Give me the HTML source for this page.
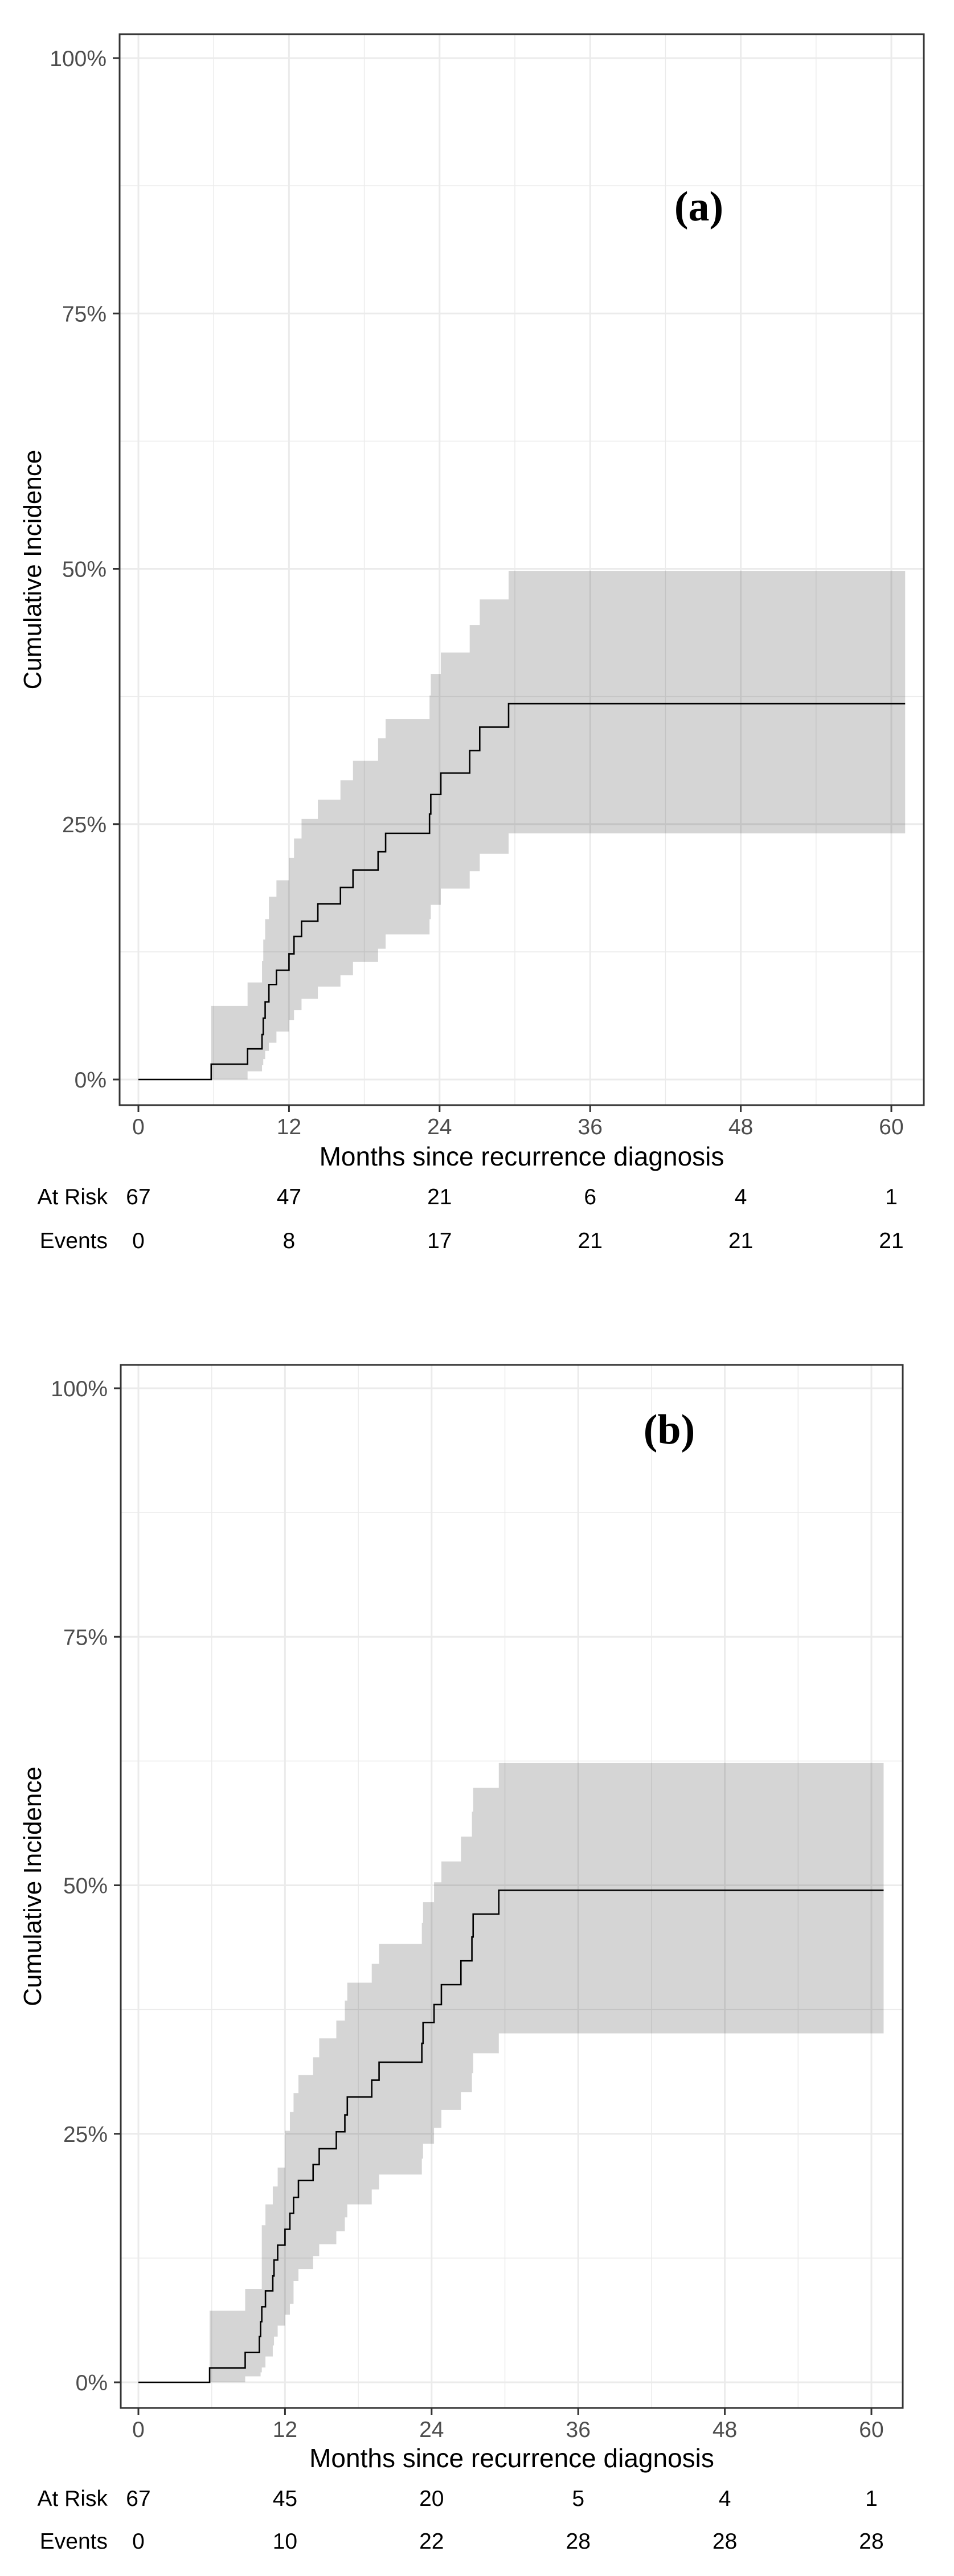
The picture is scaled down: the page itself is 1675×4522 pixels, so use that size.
<!DOCTYPE html>
<html><head><meta charset="utf-8">
<style>
html,body{margin:0;padding:0;background:#fff;}
svg{display:block;}
text{font-family:"Liberation Sans",sans-serif;}
</style></head>
<body>
<svg id="chart" xmlns="http://www.w3.org/2000/svg" width="1675" height="4522" viewBox="0 0 1675 4522"></svg>
<script>
// ---- Panel (a) data ----
const monthsA = [5.8, 8.7, 9.85, 9.95, 10.1, 10.4, 11.0, 12.0, 12.4, 13.0, 14.3, 16.1, 17.1, 19.1, 19.7, 23.2, 23.3, 24.1, 26.4, 27.2, 29.5];
const incA    = [1.5, 3.0, 4.4, 6.0, 7.6, 9.3, 10.7, 12.3, 14.0, 15.5, 17.2, 18.8, 20.5, 22.3, 24.1, 26.0, 27.9, 30.0, 32.2, 34.5, 36.8];
const upperA  = [7.2, 9.5, 11.6, 13.7, 15.7, 17.9, 19.5, 21.7, 23.6, 25.5, 27.4, 29.3, 31.2, 33.4, 35.3, 37.6, 39.7, 41.8, 44.5, 47.0, 49.8];
const lowerA  = [0, 0.8, 1.4, 2.0, 2.8, 3.6, 4.7, 5.8, 6.8, 7.9, 9.1, 10.2, 11.5, 12.8, 14.2, 15.7, 17.1, 18.7, 20.4, 22.1, 24.1];
const endA = 61.1;
const atRiskA = ["67", "47", "21", "6", "4", "1"];
const eventsA = ["0", "8", "17", "21", "21", "21"];

// ---- Panel (b) data ----
const monthsB = [5.83, 8.74, 9.9, 10.0, 10.1, 10.4, 11.0, 11.1, 11.4, 12.0, 12.4, 12.7, 13.1, 14.3, 14.8, 16.2, 16.9, 17.1, 19.1, 19.7, 23.2, 23.3, 24.2, 24.8, 26.4, 27.3, 27.4, 29.5];
const incB    = [1.45, 3.0, 4.6, 6.1, 7.6, 9.2, 10.7, 12.3, 13.8, 15.4, 17.0, 18.6, 20.3, 21.9, 23.5, 25.2, 26.9, 28.7, 30.4, 32.2, 34.1, 36.2, 38.0, 40.0, 42.4, 44.8, 47.1, 49.5];
const upperB  = [7.2, 9.4, 9.4, 9.4, 15.8, 17.9, 19.7, 19.7, 21.6, 25.3, 27.2, 29.1, 30.9, 32.7, 34.6, 36.4, 38.4, 40.2, 42.1, 44.1, 46.2, 48.3, 50.3, 52.4, 54.9, 57.4, 59.8, 62.3];
const lowerB  = [0, 0.6, 0.6, 1.0, 1.5, 2.6, 3.7, 4.6, 5.7, 6.8, 7.9, 10.2, 11.4, 12.7, 13.9, 15.2, 16.6, 17.9, 19.4, 20.9, 22.5, 24.0, 25.6, 27.4, 29.2, 31.1, 33.1, 35.1];
const endB = 61.0;
const atRiskB = ["67", "45", "20", "5", "4", "1"];
const eventsB = ["0", "10", "22", "28", "28", "28"];

// ---- Axis ticks ----
const xTicks = [0, 12, 24, 36, 48, 60];
const xMinor = [6, 18, 30, 42, 54];
const yTicks = [0, 25, 50, 75, 100];
const yTickLabels = ["0%", "25%", "50%", "75%", "100%"];
const yMinor = [12.5, 37.5, 62.5, 87.5];

const NS = "http://www.w3.org/2000/svg";
const svg = document.getElementById("chart");
function mk(tag, attrs, parent){
  const e = document.createElementNS(NS, tag);
  for (const k in attrs) e.setAttribute(k, attrs[k]);
  (parent||svg).appendChild(e);
  return e;
}

function drawPanel(p){
  const g = mk("g", {});
  
  
  const xs = m => p.x0 + (m/60)*(p.x60 - p.x0);
  const ys = v => p.y0 + (v/100)*(p.y100 - p.y0);

  xMinor.forEach(m=>{ const l=mk("line",{x1:xs(m),x2:xs(m),y1:p.top,y2:p.bottom,stroke:"#ebebeb","stroke-width":1.5},g);
      });
  yMinor.forEach(v=>{ const l=mk("line",{x1:p.left,x2:p.right,y1:ys(v),y2:ys(v),stroke:"#ebebeb","stroke-width":1.5},g);
      });
  xTicks.forEach(m=>{ const l=mk("line",{x1:xs(m),x2:xs(m),y1:p.top,y2:p.bottom,stroke:"#ebebeb","stroke-width":3},g);
      });
  yTicks.forEach(v=>{ const l=mk("line",{x1:p.left,x2:p.right,y1:ys(v),y2:ys(v),stroke:"#ebebeb","stroke-width":3},g);
      });

  const n = p.t.length;
  let d = "M" + xs(p.t[0]) + "," + ys(p.up[0]);
  for (let i=1;i<n;i++){ d += " H" + xs(p.t[i]) + " V" + ys(p.up[i]); }
  d += " H" + xs(p.end) + " V" + ys(p.lo[n-1]);
  for (let i=n-1;i>=1;i--){ d += " H" + xs(p.t[i]) + " V" + ys(p.lo[i-1]); }
  d += " H" + xs(p.t[0]) + " Z";
  const band = mk("path",{d:d,fill:"#000","fill-opacity":0.165,stroke:"none"},g);
  
  

  let s = "M" + xs(0) + "," + ys(0);
  for (let i=0;i<n;i++){ s += " H" + xs(p.t[i]) + " V" + ys(p.inc[i]); }
  s += " H" + xs(p.end);
  const line = mk("path",{d:s,fill:"none",stroke:"#000","stroke-width":2.6},g);
  
  

  const border = mk("rect",{x:p.left,y:p.top,width:p.right-p.left,height:p.bottom-p.top,fill:"none",stroke:"#333","stroke-width":3},g);
  
  

  yTicks.forEach((v,i)=>{
    const tk = mk("line",{x1:p.left-12,x2:p.left,y1:ys(v),y2:ys(v),stroke:"#333","stroke-width":3},g);
     
    const t = mk("text",{x:p.left-23,y:ys(v)+14,"text-anchor":"end","font-size":39,fill:"#4d4d4d"},g);
    t.textContent = yTickLabels[i];
     
  });
  xTicks.forEach((m,i)=>{
    const tk = mk("line",{x1:xs(m),x2:xs(m),y1:p.bottom,y2:p.bottom+12,stroke:"#333","stroke-width":3},g);
     
    const t = mk("text",{x:xs(m),y:p.tickY+14,"text-anchor":"middle","font-size":39,fill:"#4d4d4d"},g);
    t.textContent = String(m);
     
    const r = mk("text",{x:xs(m),y:p.riskY+14,"text-anchor":"middle","font-size":39,fill:"#000"},g);
    r.textContent = p.risk[i];
     
    const e = mk("text",{x:xs(m),y:p.evY+14,"text-anchor":"middle","font-size":39,fill:"#000"},g);
    e.textContent = p.ev[i];
     
  });
  const rl = mk("text",{x:189,y:p.riskY+14,"text-anchor":"end","font-size":39,fill:"#000"},g);
  rl.textContent = "At Risk";
   
  const el = mk("text",{x:189,y:p.evY+14,"text-anchor":"end","font-size":39,fill:"#000"},g);
  el.textContent = "Events";
   

  const xt = mk("text",{x:(p.left+p.right)/2,y:p.titleY+17,"text-anchor":"middle","font-size":46,fill:"#000"},g);
  xt.textContent = "Months since recurrence diagnosis";
   
  const cy = (p.top+p.bottom)/2;
  const yt = mk("text",{x:72,y:cy,"text-anchor":"middle","font-size":44,fill:"#000",transform:"rotate(-90 72 "+cy+")"},g);
  yt.textContent = "Cumulative Incidence";
   

  const pl = mk("text",{x:p.labX,y:p.labY+24,"text-anchor":"middle","font-size":74,"font-weight":"bold",fill:"#000",style:"font-family:'Liberation Serif',serif;"},g);
  pl.textContent = p.label;
   
}

drawPanel({name:"panel-a", left:210, right:1622, top:60, bottom:1940, x0:243, x60:1565, y0:1895, y100:102,
  t:monthsA, inc:incA, up:upperA, lo:lowerA, end:endA, risk:atRiskA, ev:eventsA,
  tickY:1977, titleY:2029, riskY:2100, evY:2177, label:"(a)", labX:1227, labY:363});
drawPanel({name:"panel-b", left:212, right:1585, top:2396, bottom:4227, x0:243, x60:1530, y0:4182, y100:2437,
  t:monthsB, inc:incB, up:upperB, lo:lowerB, end:endB, risk:atRiskB, ev:eventsB,
  tickY:4264, titleY:4314, riskY:4385, evY:4460, label:"(b)", labX:1175, labY:2510});
</script>
</body></html>
